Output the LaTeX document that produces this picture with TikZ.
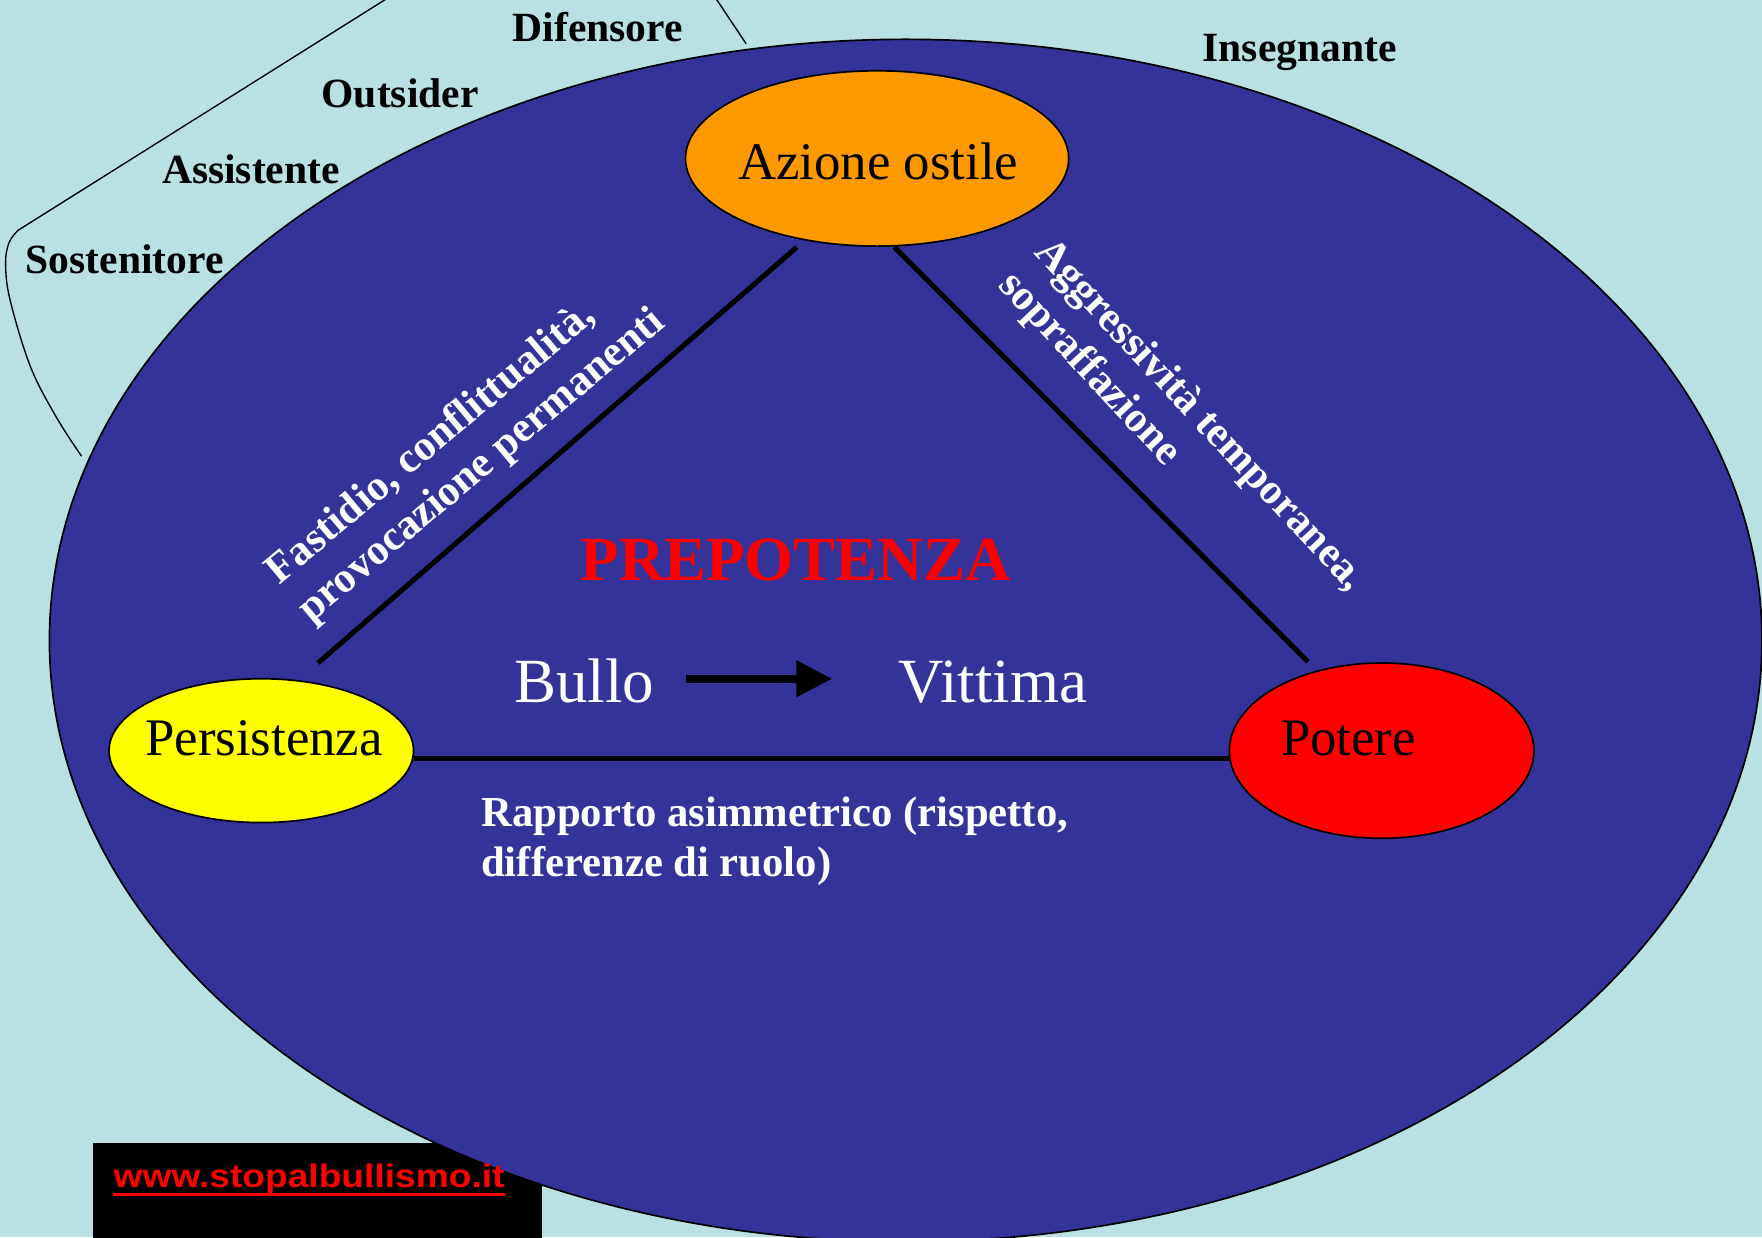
\documentclass[tikz,border=0pt]{standalone}
\usepackage{fontspec}
\setmainfont{Liberation Serif}
\newfontfamily\linkfont{Liberation Sans}
\usetikzlibrary{shapes.geometric,arrows.meta}
\definecolor{bgcyan}{HTML}{B9E0E2}
\definecolor{deepblue}{HTML}{333399}
\definecolor{orangeA}{HTML}{FF9900}
\definecolor{yellowP}{HTML}{FFFF00}
\definecolor{redP}{HTML}{FF0000}
\tikzset{
  blob/.style={ellipse, draw=black, line width=1.5pt, inner sep=0pt},
  rolelbl/.style={font=\fontsize{37}{44}\selectfont\bfseries, text=black, anchor=base west, inner sep=0pt},
  relline/.style={line width=4.5pt, draw=black},
  rottxt/.style={font=\fontsize{38}{44}\selectfont\bfseries, text=white, align=left, inner sep=0pt},
  blobtxt/.style={font=\fontsize{47}{54}\selectfont, text=black, anchor=base, inner sep=0pt},
  bigwhite/.style={font=\fontsize{56}{64}\selectfont, text=white, anchor=base, inner sep=0pt},
  thinline/.style={line width=1.2pt, draw=black},
}
\begin{document}
\begin{tikzpicture}[x=1pt,y=-1pt]
\useasboundingbox (0,0) rectangle (1568,1101);
\clip (0,0) rectangle (1568,1101);
\fill[bgcyan] (0,0) rectangle (1568,1101);

% outer bracket lines
\draw[thinline] (347,-3) -- (16,205)
  plot[smooth, tension=0.6] coordinates {(16,205) (8,216) (5,235) (9,267) (27,326) (50,371) (72.6,406)};
\draw[thinline] (636,-3) -- (664,39);

% black box
\fill[black] (83,1017) rectangle (482,1110);

% big ellipse
\draw[fill=deepblue, line width=1.5pt] (806,570) ellipse [x radius=762pt, y radius=535pt];

% role labels
\node[rolelbl] (difensore) at (456,37) {Difensore};
\node[rolelbl] (outsider) at (286,95.5) {Outsider};
\node[rolelbl] (assistente) at (144,163) {Assistente};
\node[rolelbl] (sostenitore) at (22.7,243) {Sostenitore};
\node[rolelbl] (insegnante) at (1070,55) {Insegnante};

% triangle ellipses
\node[blob, fill=orangeA, minimum width=341pt, minimum height=156pt] (azione) at (780.5,141) {};
\node[blob, fill=yellowP, minimum width=271pt, minimum height=128pt] (persist) at (232.5,668) {};
\node[blob, fill=redP, minimum width=271pt, minimum height=156pt] (potere) at (1229.5,668) {};

\node[blobtxt] (azionet) at (781.5,160) {Azione ostile};
\node[blobtxt] (persistt) at (235,672) {Persistenza};
\node[blobtxt] (poteret) at (1200,672) {Potere};

% triangle lines
\coordinate (lA) at (709,220);
\coordinate (lP) at (283,590);
\coordinate (rA) at (796,220);
\coordinate (rP) at (1164,589);
\draw[relline] (lA) -- (lP);
\draw[relline] (rA) -- (rP);
\draw[relline] (persist.east |- 0,675) -- (potere.west |- 0,675);

% rotated texts
\node[rottxt, rotate=40] (fastidio) at (415,398) {Fastidio, conflittualità,\\provocazione permanenti};
\node[rottxt, rotate=-47] (aggress) at (1051,385) {Aggressività temporanea,\\sopraffazione};

% centre
\node[font=\fontsize{56}{64}\selectfont\bfseries, text=redP, anchor=base, inner sep=0pt] (prep) at (708,516.5) {PREPOTENZA};
\node[bigwhite] (bullo) at (520,625) {Bullo};
\node[bigwhite] (vittima) at (883.7,625) {Vittima};
\coordinate (arrowY) at (0,604);
\draw[line width=7pt, -{Triangle[length=32pt,width=31pt]}] ([xshift=28pt]bullo.east |- arrowY) -- ([xshift=-59pt]vittima.west |- arrowY);

\node[rottxt, anchor=north west] (rapporto) at (428,709) {Rapporto asimmetrico (rispetto,\\differenze di ruolo)};

% link
\node[inner sep=0pt, anchor=base west, text=redP] (link) at (101,1057) {\scalebox{1.14}[1]{\linkfont\bfseries\fontsize{29}{34}\selectfont www.stopalbullismo.it}};
\draw[redP, line width=3pt] ([yshift=-6pt]link.base west) -- ([yshift=-6pt]link.base east);
\end{tikzpicture}
\end{document}
